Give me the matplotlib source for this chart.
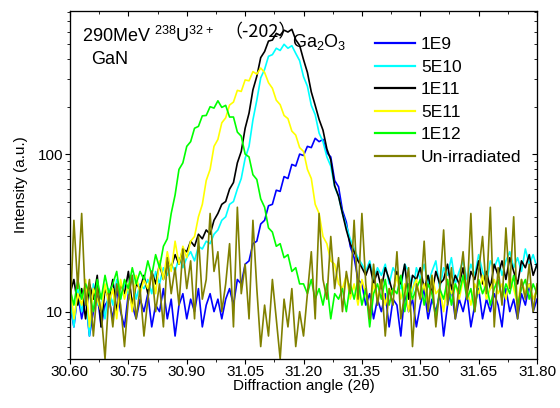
import numpy as np
import matplotlib
matplotlib.use("Agg")
import matplotlib.pyplot as plt
from matplotlib.ticker import FixedLocator, LogLocator, NullFormatter, FixedFormatter

plt.rcParams['font.family'] = ['Liberation Sans', 'Noto Sans CJK SC', 'DejaVu Sans']
plt.rcParams['mathtext.fontset'] = 'custom'
plt.rcParams['mathtext.rm'] = 'Liberation Sans'
plt.rcParams['mathtext.it'] = 'Liberation Sans'

# diffraction angle, 30.60 .. 31.80 step 0.01
angle = np.round(np.arange(121) * 0.01 + 30.60, 2)

i_1e9 = [11, 8, 13, 9, 12, 7, 10, 13, 8, 11,
         12, 9, 14, 10, 8, 13, 11, 9, 12, 10,
         13, 8, 11, 10, 14, 9, 12, 7, 11, 13,
         9, 12, 10, 14, 8, 11, 13, 10, 12, 9,
         12, 14, 11, 16, 15, 20, 21, 27, 28, 36,
         38, 47, 48, 59, 58, 72, 70, 86, 84, 100,
         98, 112, 110, 126, 120, 124, 102, 96, 68, 62,
         44, 37, 26, 22, 16, 15, 11, 13, 9, 12,
         10, 13, 8, 12, 11, 7, 13, 10, 12, 8,
         11, 14, 9, 12, 10, 13, 7, 11, 14, 9,
         12, 10, 13, 8, 11, 14, 9, 12, 10, 13,
         11, 8, 14, 10, 12, 9, 13, 11, 15, 10, 12]

i_5e10 = [12, 8, 14, 10, 13, 7, 15, 11, 13, 9,
          14, 11, 16, 12, 15, 13, 17, 12, 15, 14,
          16, 13, 18, 15, 19, 17, 20, 18, 22, 19,
          22, 24, 21, 26, 25, 28, 27, 31, 33, 38,
          40, 48, 50, 60, 70, 94, 112, 165, 220, 305,
          345, 418, 428, 470, 455, 498, 470, 488, 436, 392,
          310, 270, 204, 178, 136, 120, 96, 84, 62, 54,
          42, 35, 29, 25, 22, 20, 18, 21, 16, 19,
          17, 20, 15, 19, 17, 14, 20, 18, 13, 19,
          16, 20, 15, 18, 21, 14, 19, 17, 22, 15,
          18, 21, 16, 20, 17, 23, 18, 15, 21, 19,
          22, 17, 21, 24, 19, 22, 18, 25, 20, 23, 19]

i_1e11 = [13, 16, 11, 14, 9, 15, 12, 17, 8, 14,
          12, 16, 10, 15, 13, 18, 11, 15, 14, 17,
          13, 18, 15, 20, 16, 21, 19, 23, 20, 25,
          24, 28, 26, 31, 29, 33, 31, 38, 42, 48,
          50, 60, 66, 88, 104, 146, 182, 256, 312, 410,
          448, 522, 530, 584, 568, 612, 596, 620, 532, 490,
          398, 330, 248, 204, 166, 142, 108, 92, 63, 54,
          42, 33, 27, 24, 21, 19, 17, 20, 15, 18,
          14, 19, 16, 13, 18, 15, 20, 12, 17, 16,
          19, 14, 17, 13, 18, 15, 16, 20, 14, 17,
          15, 19, 13, 18, 16, 21, 15, 18, 14, 20,
          17, 21, 16, 22, 18, 15, 21, 19, 23, 17, 20]

i_5e11 = [15, 9, 13, 11, 16, 8, 14, 12, 10, 15,
          11, 14, 9, 16, 12, 15, 10, 17, 13, 16,
          14, 18, 13, 21, 16, 24, 18, 28, 20, 26,
          22, 28, 30, 40, 48, 68, 80, 112, 124, 158,
          170, 205, 214, 254, 250, 296, 292, 334, 322, 352,
          330, 284, 262, 220, 206, 176, 168, 140, 132, 110,
          104, 80, 70, 48, 42, 30, 27, 21, 20, 15,
          14, 17, 12, 15, 11, 16, 13, 10, 15, 12,
          16, 11, 14, 13, 17, 12, 15, 10, 14, 16,
          12, 15, 11, 17, 13, 14, 10, 16, 13, 15,
          12, 16, 14, 11, 15, 13, 17, 12, 14, 16,
          13, 15, 12, 17, 14, 11, 16, 13, 15, 12, 14]

i_1e12 = [14, 11, 16, 12, 15, 13, 10, 16, 12, 17,
          13, 15, 18, 12, 16, 14, 19, 15, 18, 16,
          21, 17, 23, 19, 26, 29, 42, 55, 80, 88,
          112, 120, 146, 150, 175, 176, 200, 196, 218, 198,
          204, 172, 172, 138, 130, 100, 96, 74, 69, 52,
          46, 34, 32, 26, 27, 22, 23, 18, 19, 15,
          15, 13, 16, 12, 14, 11, 15, 9, 13, 12,
          14, 10, 15, 12, 16, 11, 14, 8, 13, 15,
          12, 16, 11, 14, 13, 17, 10, 15, 12, 14,
          16, 11, 15, 13, 9, 14, 12, 16, 11, 15,
          13, 17, 12, 14, 10, 16, 13, 15, 11, 14,
          16, 12, 15, 13, 17, 11, 14, 16, 12, 15, 13]

i_unirr = [9, 38, 14, 42, 11, 16, 7, 14, 10, 5,
           13, 8, 15, 11, 6, 12, 17, 9, 14, 7,
           12, 18, 10, 15, 8, 22, 13, 19, 11, 25,
           14, 21, 9, 30, 12, 16, 42, 18, 24, 10,
           15, 27, 8, 46, 13, 20, 9, 38, 14, 6,
           11, 7, 16, 9, 5, 12, 8, 14, 6, 10,
           7, 13, 24, 9, 42, 16, 12, 30, 14, 22,
           10, 18, 13, 38, 12, 42, 15, 9, 20, 11,
           16, 7, 14, 11, 24, 9, 13, 19, 6, 15,
           12, 28, 10, 17, 8, 14, 33, 11, 19, 9,
           15, 24, 12, 42, 10, 18, 30, 13, 46, 8,
           19, 11, 34, 14, 40, 9, 16, 12, 20, 10, 15]

series = [("1E9", i_1e9, "#0000ff"),
          ("5E10", i_5e10, "#00ffff"),
          ("1E11", i_1e11, "#000000"),
          ("5E11", i_5e11, "#ffff00"),
          ("1E12", i_1e12, "#00ff00"),
          ("Un-irradiated", i_unirr, "#808000")]

x_ticks = [30.60, 30.75, 30.90, 31.05, 31.20, 31.35, 31.50, 31.65, 31.80]
x_minor = np.round(np.array(x_ticks[:-1]) + 0.075, 3)

fig = plt.figure(figsize=(5.6, 4.08), dpi=100)
ax = fig.add_axes([0.125, 0.12, 0.834, 0.854])

for name, vals, c in series:
    ax.plot(angle, vals, color=c, lw=1.2, label=name)

ax.set_yscale('log')
ax.set_xlim(30.60, 31.80)
ax.set_ylim(5, 815)
ax.xaxis.set_major_locator(FixedLocator(x_ticks))
ax.xaxis.set_minor_locator(FixedLocator(x_minor))
ax.set_xticklabels(["%.2f" % v for v in x_ticks])
ax.yaxis.set_major_locator(FixedLocator([10, 100]))
ax.yaxis.set_major_formatter(FixedFormatter(["10", "100"]))
ax.yaxis.set_minor_locator(LogLocator(base=10, subs=np.arange(2, 10)))
ax.yaxis.set_minor_formatter(NullFormatter())
ax.tick_params(which='major', direction='out', length=3.6, labelsize=11)
ax.tick_params(axis='x', which='major', pad=0.8)
ax.tick_params(axis='y', which='major', pad=1.5)
ax.tick_params(which='minor', direction='out', length=2.2)
ax.set_xlabel("Diffraction angle (2θ)", fontsize=11, labelpad=0)
ax.set_ylabel("Intensity (a.u.)", fontsize=11, labelpad=7)

# mirrored ticks on top / right, pointing in
axt = ax.twiny()
axt.set_xlim(ax.get_xlim())
axt.xaxis.set_major_locator(FixedLocator(x_ticks))
axt.xaxis.set_minor_locator(FixedLocator(x_minor))
axt.tick_params(which='both', direction='in', labeltop=False)
axt.tick_params(which='major', length=3.6)
axt.tick_params(which='minor', length=2.2)
axr = ax.twinx()
axr.set_yscale('log')
axr.set_ylim(ax.get_ylim())
axr.yaxis.set_major_locator(FixedLocator([10, 100]))
axr.yaxis.set_minor_locator(LogLocator(base=10, subs=np.arange(2, 10)))
axr.tick_params(which='both', direction='in', labelright=False)
axr.tick_params(which='major', length=3.6)
axr.tick_params(which='minor', length=2.2)

leg = ax.legend(loc='upper left', bbox_to_anchor=(0.653, 0.9235), frameon=False,
                fontsize=12.5, handlelength=2.3, handletextpad=0.35,
                labelspacing=0.42, borderaxespad=0, borderpad=0)
for h in leg.get_lines():
    h.set_linewidth(1.6)

ax.text(0.025, 0.955, r"290MeV $^{238}$U$^{32+}$", transform=ax.transAxes,
        fontsize=13, va='top')
ax.text(0.045, 0.885, "GaN", transform=ax.transAxes, fontsize=13, va='top')
ax.text(0.330, 0.9385, "（-202）", transform=ax.transAxes, fontsize=13, va='center',
        family=['Noto Sans CJK SC', 'Liberation Sans'])
ax.text(0.475, 0.938, r"Ga$_2$O$_3$", transform=ax.transAxes, fontsize=13, va='top')

fig.savefig("out.png", dpi=100)
